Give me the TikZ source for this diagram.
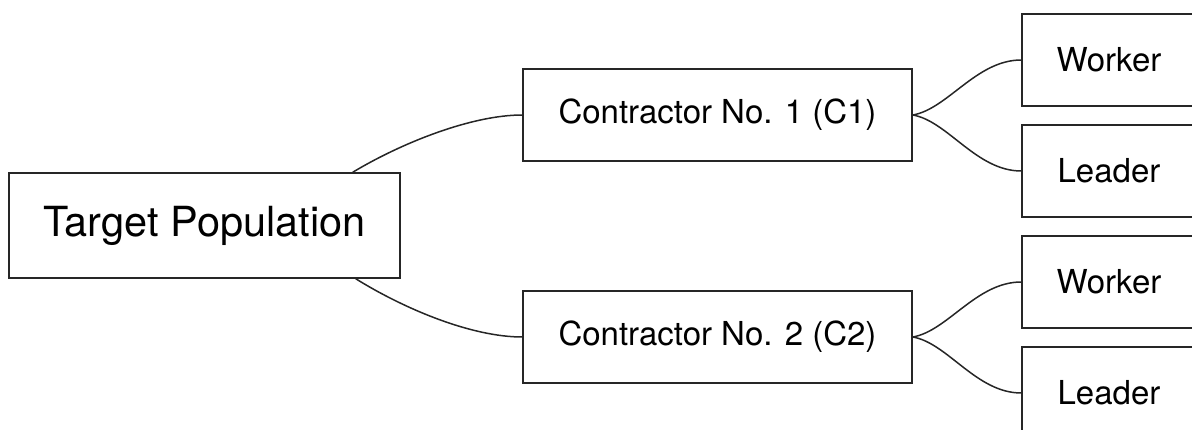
\documentclass[tikz,border=0pt]{standalone}
\usepackage{fontspec}
\setmainfont{TeX Gyre Heros}
\begin{document}
\begin{tikzpicture}[x=1pt,y=-1pt,
  box/.style={draw=black!85,line width=1.5pt,fill=white,inner sep=0pt,anchor=center},
  big/.style={box,minimum width=391pt,minimum height=105pt,font=\fontsize{41.5}{48}\selectfont},
  mid/.style={box,minimum width=389pt,minimum height=92pt,font=\fontsize{33}{38}\selectfont},
  leaf/.style={box,minimum width=174pt,minimum height=92pt,font=\fontsize{33}{38}\selectfont},
  link/.style={draw=black!85,line width=1.5pt}]
  \useasboundingbox (0,0) rectangle (1192,430);
  \begin{scope}
    \clip (0,0) rectangle (1192,430);
    \node[big] (target) at (204.5,225.5) {Target Population};
    \node[mid] (c1) at (717.5,115) {Contractor No. 1 (C1)};
    \node[mid] (c2) at (717.5,337) {Contractor No. 2 (C2)};
    \node[leaf] (w1) at (1109,60) {Worker};
    \node[leaf] (l1) at (1109,171) {Leader};
    \node[leaf] (w2) at (1109,282) {Worker};
    \node[leaf] (l2) at (1109,393) {Leader};

    % curved links from the population to each contractor
    \draw[link] ([xshift=-48pt]target.north east) .. controls +(50,-30) and +(-50,0) .. (c1.west);
    \draw[link] ([xshift=-45pt]target.south east) .. controls +(50,31) and +(-50,0) .. (c2.west);
    % curved links from each contractor to its roles
    \draw[link] (c1.east) .. controls +(35,-6) and +(-45,0) .. (w1.west);
    \draw[link] (c1.east) .. controls +(35,6) and +(-45,0) .. (l1.west);
    \draw[link] (c2.east) .. controls +(35,-6) and +(-45,0) .. (w2.west);
    \draw[link] (c2.east) .. controls +(35,6) and +(-45,0) .. (l2.west);
  \end{scope}
\end{tikzpicture}
\end{document}
